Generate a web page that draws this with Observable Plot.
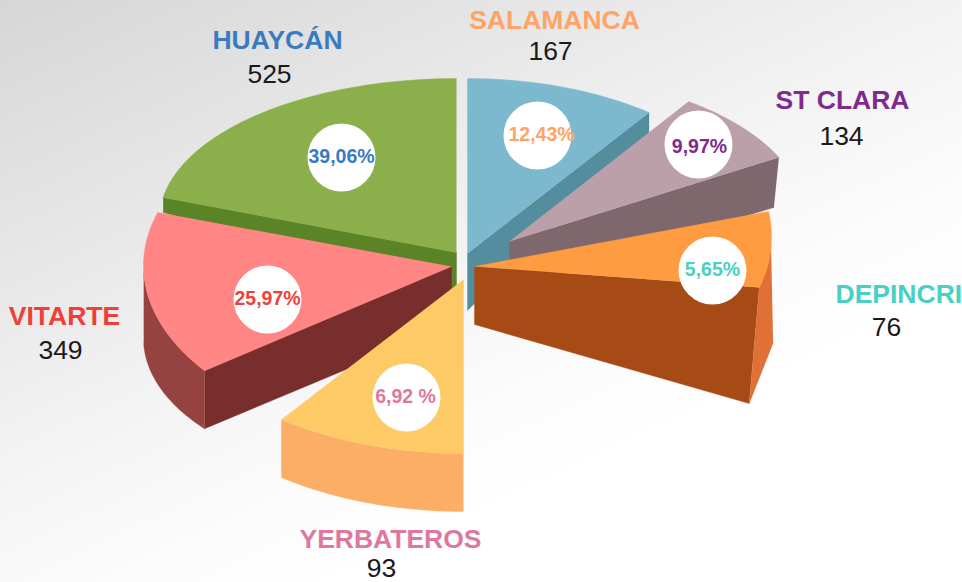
<!DOCTYPE html>
<html>
<head>
<meta charset="utf-8">
<script src="https://cdn.jsdelivr.net/npm/d3@7"></script>
<script src="https://cdn.jsdelivr.net/npm/@observablehq/plot@0.6"></script>
<style>
html,body{margin:0;padding:0;background:#fff;overflow:hidden}
svg{display:block}
</style>
</head>
<body>
<div id="chart"></div>
<script>
// Values
const categories = ["HUAYCÁN", "SALAMANCA", "ST CLARA", "DEPINCRI", "VITARTE", "YERBATEROS"];
const counts = [525, 167, 134, 76, 349, 93];
const percents = ["39,06%", "12,43%", "9,97%", "5,65%", "25,97%", "6,92 %"];

// Drawn sweep of each slice (degrees clockwise from top, as pictured)
const sweepFrom = [-81, 0, 38.1, 82, 232.8, 180];
const sweepTo = [0, 37.7, 67, 106.5, 287.8, 217.8];

// Colours
const labelColors = ["#3a7bbf", "#ffa468", "#7f2a8c", "#48d0c4", "#ee3f38", "#de789e"];
const topColors = ["#8baf4a", "#7cb8ce", "#bba0a9", "#ff9c42", "#ff8684", "#fdca66"];
const wallColors = ["#5a8426", "#548d9e", "#7f676e", "#a64b16", "#792e2e", "#fcae66"];
const rimColors = [null, null, null, "#e07035", "#964240", "#fcae66"];

// Slice placement in the page's coordinate frame
const rimCenter = [[456,219],[467,241],[505,212],[474,236],[443,265],[463,291]];
const rimRadius = [[297,141],[297,163],[297,141],[297,180],[300,174],[297,162]];
const apex = [[456,252],[467,253],[509,241],[474,266],[451,266],[463,279]];
const apexDrop = [38, 57, 46, 58, 59, 0];
const edgeDrop = [[0,15],[0,20],[-5,50],[-10,116],[0,58],[0,58]];
const rimDropFrom = [null, null, null, [2,97], [0,72], [0,58]];
const rimFrom = [null, null, null, 93, 268, 180];
const rimTo = [null, null, null, 106.5, 232.8, 217.8];
const straightBottom = [false, false, false, true, false, false];

const dotAt = [[341,157],[537,135],[698,144],[712,270],[267,299],[406,397]];
const pctAt = [[341,156],[541,134],[699,146],[712,269],[267,298],[405,396]];
const nameAt = [[277,40],[554,20],[842,100],[835,294],[64,316],[390,539]];
const nameAnchor = ["middle","middle","middle","start","middle","middle"];
const countAt = [[269,74],[550,51],[841,136],[886,327],[60,350],[381,568.5]];

const rimPoint = (i, t, off=[0,0]) => {
  const a = t * Math.PI / 180;
  return [rimCenter[i][0] + rimRadius[i][0]*Math.sin(a) + off[0],
          rimCenter[i][1] - rimRadius[i][1]*Math.cos(a) + off[1]];
};
const arc = (i, t0, t1, off0=[0,0], off1=[0,0], n=40) => d3.range(0, n+1).map(k => {
  const u = k/n;
  return rimPoint(i, t0 + (t1-t0)*u, [off0[0]+(off1[0]-off0[0])*u, off0[1]+(off1[1]-off0[1])*u]);
});

// which radial edge of each slice shows its wall
const wallEdge = [sweepFrom[0], sweepTo[1], sweepTo[2], sweepTo[3], sweepFrom[4], null];

const polygon = (pts, fill) => Plot.line(pts, {x: d=>d[0], y: d=>d[1], fill, stroke: fill, strokeWidth: 0.4, curve: "linear"});

const sliceMarks = i => {
  const m = [];
  if (wallEdge[i] != null) {
    const e = rimPoint(i, wallEdge[i]);
    const eb = [e[0]+edgeDrop[i][0], e[1]+edgeDrop[i][1]];
    m.push(polygon([e, apex[i], [apex[i][0], apex[i][1]+apexDrop[i]], eb], wallColors[i]));
  }
  if (rimColors[i]) {
    const top = arc(i, rimFrom[i], rimTo[i]);
    const bot = arc(i, rimFrom[i], rimTo[i], rimDropFrom[i], edgeDrop[i], straightBottom[i] ? 1 : 40).reverse();
    m.push(polygon(top.concat(bot), rimColors[i]));
  }
  m.push(polygon([apex[i], ...arc(i, sweepFrom[i], sweepTo[i])], topColors[i]));
  return m;
};

const idx = d3.range(categories.length);
const drawOrder = [0, 1, 2, 3, 4, 5];
const font = "'Liberation Sans', Arial, sans-serif";

const plot = Plot.plot({
  width: 962, height: 582,
  margin: 0,
  x: {domain: [0, 962], range: [0, 962], axis: null},
  y: {domain: [0, 582], range: [0, 582], axis: null},
  style: {background: "linear-gradient(155deg,#d6d6d6 0%,#e6e6e6 25%,#f3f3f3 45%,#fcfcfc 62%,#ffffff 72%)", fontFamily: font},
  marks: [
    ...drawOrder.flatMap(sliceMarks),
    Plot.dot(idx, {x: i=>dotAt[i][0], y: i=>dotAt[i][1], r: 34, fill: "#fff", stroke: null}),
    Plot.text(idx, {x: i=>pctAt[i][0], y: i=>pctAt[i][1], text: i=>percents[i], fill: i=>labelColors[i], fontSize: 19.5, fontWeight: "bold", textAnchor: "middle", lineAnchor: "middle"}),
    Plot.text(idx.filter(i=>nameAnchor[i]==="middle"), {x: i=>nameAt[i][0], y: i=>nameAt[i][1], text: i=>categories[i], fill: i=>labelColors[i], fontSize: 26.5, fontWeight: "bold", textAnchor: "middle", lineAnchor: "middle"}),
    Plot.text(idx.filter(i=>nameAnchor[i]==="start"), {x: i=>nameAt[i][0], y: i=>nameAt[i][1], text: i=>categories[i], fill: i=>labelColors[i], fontSize: 26.5, fontWeight: "bold", textAnchor: "start", lineAnchor: "middle"}),
    Plot.text(idx, {x: i=>countAt[i][0], y: i=>countAt[i][1], text: i=>String(counts[i]), fill: "#1a1a1a", fontSize: 26.5, textAnchor: "middle", lineAnchor: "middle"})
  ]
});
document.getElementById("chart").append(plot);
</script>
</body>
</html>
